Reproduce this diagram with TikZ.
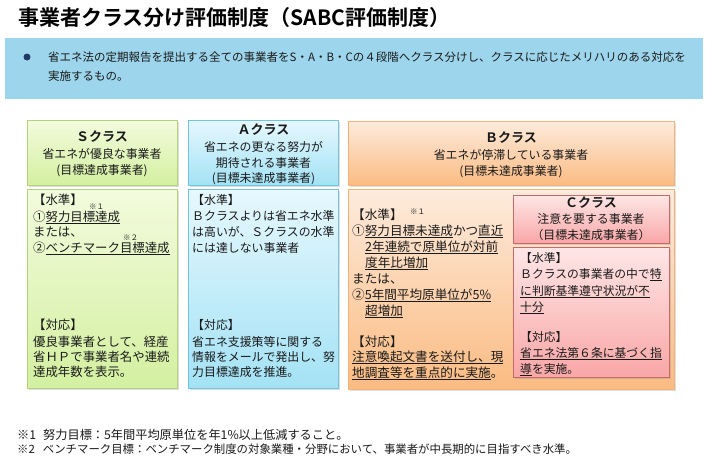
\documentclass[tikz,border=0pt]{standalone}
\usepackage{fontspec}
\setmainfont{Noto Sans CJK JP}[BoldFont={Noto Sans CJK JP Bold}]
\usetikzlibrary{shadows}
\definecolor{txt}{HTML}{1A1A1A}
\definecolor{bluebg}{HTML}{9DD6EC}
\definecolor{navy}{HTML}{1F3864}
\definecolor{sTop}{HTML}{F3FBDD}\definecolor{sBot}{HTML}{D3F0A0}\definecolor{sLine}{HTML}{B5D07F}
\definecolor{aTop}{HTML}{E6F8FE}\definecolor{aBot}{HTML}{A3E2F5}\definecolor{aLine}{HTML}{72C4DE}
\definecolor{bTop}{HTML}{FDEBDC}\definecolor{bBot}{HTML}{FBBB82}\definecolor{bLine}{HTML}{F2B27C}
\definecolor{cTop}{HTML}{FFE6E6}\definecolor{cBot}{HTML}{F9A6A6}\definecolor{cLine}{HTML}{C46A6A}
\newcommand\ulx[1]{\setbox0=\hbox{#1}\rlap{\rule[-2.4pt]{\wd0}{0.55pt}}\box0}
\tikzset{
  panel/.style={draw, line width=0.8pt, anchor=north west, inner sep=0pt,
    drop shadow={shadow xshift=1.2pt, shadow yshift=-1.5pt, opacity=0.25}},
  spanel/.style={panel, draw=sLine, top color=sTop, bottom color=sBot},
  apanel/.style={panel, draw=aLine, top color=aTop, bottom color=aBot},
  bpanel/.style={panel, draw=bLine, top color=bTop, bottom color=bBot},
  cpanel/.style={panel, draw=cLine, top color=cTop, bottom color=cBot},
  ln/.style={anchor=west, inner sep=0pt, text height=10pt, text depth=1pt, text=txt},
  hd/.style={anchor=center, inner sep=0pt, text height=10pt, text depth=1pt, text=txt, font=\fontsize{11.9}{13}\selectfont},
  hdb/.style={hd, font=\fontsize{13}{14}\selectfont\bfseries},
  sbodyt/.style={ln, font=\fontsize{12.4}{13}\selectfont},
  abodyt/.style={ln, font=\fontsize{11.9}{13}\selectfont},
  cbodyt/.style={ln, font=\fontsize{11.8}{13}\selectfont},
  bbodyt/.style={ln, font=\fontsize{12.6}{14}\selectfont},
  note/.style={anchor=west, inner sep=0pt, text=txt, font=\fontsize{7.5}{8}\selectfont},
}
\begin{document}
\begin{tikzpicture}[x=1pt,y=-1pt]
\useasboundingbox[fill=white] (0,0) rectangle (707,458);
% title
\node[anchor=west, inner sep=0pt, font=\fontsize{21}{24}\selectfont\bfseries, text=black] (title) at (18,18) {事業者クラス分け評価制度（SABC評価制度）};
% blue band
\node[anchor=north west, fill=bluebg, minimum width=698pt, minimum height=61pt, inner sep=0pt] (band) at (5,38) {};
\node[circle, fill=navy, minimum size=7pt, inner sep=0pt] (dot) at (27,57) {};
\node[ln, font=\fontsize{11.5}{13}\selectfont] (bl1) at (48,57) {省エネ法の定期報告を提出する全ての事業者をS・A・B・Cの４段階へクラス分けし、クラスに応じたメリハリのある対応を};
\node[ln, font=\fontsize{11.5}{13}\selectfont] (bl2) at (48,76) {実施するもの。};
% S class
\node[spanel, minimum width=150pt, minimum height=65pt] (shead) at (27,120) {};
\node[spanel, minimum width=150pt, minimum height=199pt] (sbody) at (27,189) {};
\node[hdb] (s1) at (102,137) {Ｓクラス};
\node[hd] (s2) at (102,154) {省エネが優良な事業者};
\node[hd] (s3) at (102,170) {(目標達成事業者)};
\node[sbodyt] (sb1) at (33,200) {【水準】};
\node[note] (sn1) at (89,207) {※１};
\node[sbodyt] (sb2) at (33,217) {①\ulx{努力目標達成}};
\node[sbodyt] (sb3) at (33,232) {または、};
\node[note] (sn2) at (123,238) {※２};
\node[sbodyt] (sb4) at (33,248) {②\ulx{ベンチマーク目標達成}};
\node[sbodyt] (sb5) at (33,325) {【対応】};
\node[sbodyt] (sb6) at (33,342) {優良事業者として、経産};
\node[sbodyt] (sb7) at (33,357) {省ＨＰで事業者名や連続};
\node[sbodyt] (sb8) at (33,372) {達成年数を表示。};
% A class
\node[apanel, minimum width=150pt, minimum height=65pt] (ahead) at (188,120) {};
\node[apanel, minimum width=150pt, minimum height=199pt] (abody) at (188,189) {};
\node[hdb] (a1) at (263.5,130) {Ａクラス};
\node[hd] (a2) at (263.5,147) {省エネの更なる努力が};
\node[hd] (a3) at (263.5,163) {期待される事業者};
\node[hd] (a4) at (263.5,178) {(目標未達成事業者)};
\node[abodyt] (ab1) at (192,200) {【水準】};
\node[abodyt] (ab2) at (192,216) {Ｂクラスよりは省エネ水準};
\node[abodyt] (ab3) at (192,232) {は高いが、Ｓクラスの水準};
\node[abodyt] (ab4) at (192,248) {には達しない事業者};
\node[abodyt] (ab5) at (192,325) {【対応】};
\node[abodyt] (ab6) at (192,342) {省エネ支援策等に関する};
\node[abodyt] (ab7) at (192,357) {情報をメールで発出し、努};
\node[abodyt] (ab8) at (192,372) {力目標達成を推進。};
% B class
\node[bpanel, minimum width=326pt, minimum height=64pt] (bhead) at (348,121) {};
\node[bpanel, minimum width=326pt, minimum height=200pt] (bbody) at (348,189) {};
\node[hdb] (b1) at (511,138) {Ｂクラス};
\node[hd] (b2) at (511,155) {省エネが停滞している事業者};
\node[hd] (b3) at (511,171) {(目標未達成事業者)};
\node[bbodyt] (bb1) at (352,215) {【水準】};
\node[note] (bn1) at (410,212) {※１};
\node[bbodyt] (bb2) at (352,231) {①\ulx{努力目標未達成}かつ\ulx{直近}};
\node[bbodyt] (bb3) at (365,247) {\ulx{2年連続で原単位が対前}};
\node[bbodyt] (bb4) at (365,263) {\ulx{度年比増加}};
\node[bbodyt] (bb5) at (352,279) {または、};
\node[bbodyt] (bb6) at (352,295) {②\ulx{5年間平均原単位が5\%}};
\node[bbodyt] (bb7) at (365,311) {\ulx{超増加}};
\node[bbodyt] (bb8) at (352,342) {【対応】};
\node[bbodyt] (bb9) at (352,357) {\ulx{注意喚起文書を送付し、現}};
\node[bbodyt] (bb10) at (352,373) {\ulx{地調査等を重点的に実施}。};
% C class
\node[cpanel, minimum width=156pt, minimum height=48pt] (chead) at (513,195) {};
\node[cpanel, minimum width=156pt, minimum height=130pt] (cbody) at (513,247) {};
\node[hdb] (c1) at (591,203) {Ｃクラス};
\node[hd] (c2) at (591,219) {注意を要する事業者};
\node[hd] (c3) at (591,235) {（目標未達成事業者）};
\node[cbodyt] (cb1) at (520,258) {【水準】};
\node[cbodyt] (cb2) at (520,274) {Ｂクラスの事業者の中で\ulx{特}};
\node[cbodyt] (cb3) at (520,291) {\ulx{に判断基準遵守状況が不}};
\node[cbodyt] (cb4) at (520,307) {\ulx{十分}};
\node[cbodyt] (cb5) at (520,337) {【対応】};
\node[cbodyt] (cb6) at (520,353) {\ulx{省エネ法第６条に基づく指}};
\node[cbodyt] (cb7) at (520,369) {\ulx{導}を実施。};
% footnotes
\node[ln, font=\fontsize{12.2}{13}\selectfont] (f1) at (17,435) {※1\hspace{7pt}努力目標：5年間平均原単位を年1\%以上低減すること。};
\node[ln, font=\fontsize{11.4}{12}\selectfont] (f2) at (17,449) {※2\hspace{8pt}ベンチマーク目標：ベンチマーク制度の対象業種・分野において、事業者が中長期的に目指すべき水準。};
\end{tikzpicture}
\end{document}
